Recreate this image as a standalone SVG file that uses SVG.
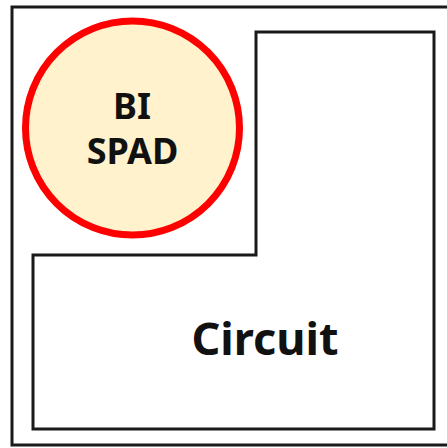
<svg xmlns="http://www.w3.org/2000/svg" width="447" height="448" viewBox="0 0 447 448">
<style>
.line{fill:none;stroke:#1a1a1a;stroke-width:3}
.lbl{font-family:"Noto Sans","Open Sans","DejaVu Sans",sans-serif;font-weight:bold;fill:#111;text-anchor:middle}
</style>
<rect width="447" height="448" fill="#ffffff"/>
<g id="outer"><rect class="line" x="12" y="7" width="440" height="438"/></g>
<g id="circuit">
<path class="line" d="M33,255 L256,255 L256,32 L434,32 L434,429 L33,429 Z" stroke-linejoin="miter"/>
<text class="lbl" x="265" y="355" font-size="45">Circuit</text>
</g>
<g id="spad">
<circle cx="132.5" cy="128" r="107" fill="#FFF2CC" stroke="#FF0000" stroke-width="7"/>
<text class="lbl" x="132" y="119" font-size="36">BI</text>
<text class="lbl" x="132.5" y="164" font-size="36">SPAD</text>
</g>
<g id="connectors"/>
</svg>
